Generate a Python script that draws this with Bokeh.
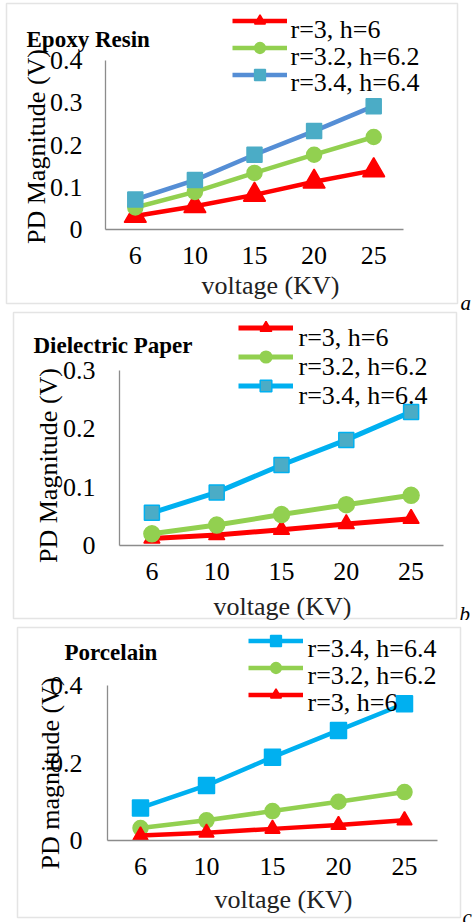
import math
from bokeh.plotting import figure
from bokeh.models import (Range1d, FixedTicker, Label, Legend, LegendItem,
                          BoxAnnotation)
from bokeh.layouts import column
from bokeh.embed import file_html
from bokeh.resources import INLINE

# ---------------- data ----------------
voltage_kv = ["6", "10", "15", "20", "25"]

epoxy_r3 = [0.032, 0.055, 0.082, 0.113, 0.140]
epoxy_r32 = [0.052, 0.089, 0.134, 0.177, 0.219]
epoxy_r34 = [0.071, 0.117, 0.177, 0.233, 0.292]

paper_r3 = [0.012, 0.018, 0.027, 0.037, 0.046]
paper_r32 = [0.020, 0.035, 0.053, 0.070, 0.086]
paper_r34 = [0.056, 0.091, 0.138, 0.181, 0.229]

porc_r3 = [0.013, 0.020, 0.030, 0.040, 0.052]
porc_r32 = [0.032, 0.052, 0.076, 0.100, 0.125]
porc_r34 = [0.084, 0.142, 0.215, 0.284, 0.353]

series_labels = ["r=3, h=6", "r=3.2, h=6.2", "r=3.4, h=6.4"]

yticks_a = [0, 0.1, 0.2, 0.3, 0.4]
yticks_b = [0, 0.1, 0.2, 0.3]
yticks_c = [0, 0.2, 0.4]
ytick_labels_a = ["0", "0.1", "0.2", "0.3", "0.4"]
ytick_labels_b = ["0", "0.1", "0.2", "0.3"]
ytick_labels_c = ["0", "0.2", "0.4"]

FONT = "Liberation Serif"
W = 474


def make_panel(title, ylabel, series, yticks, ytick_labels, cfg, tag):
    H = cfg["h"]
    L = cfg["axis_x"]              # canvas x of y axis (value 0.5 on x)
    Z = cfg["zero_y"]              # canvas y of value 0
    T = cfg["top_y"]               # canvas y of max tick
    ymax = yticks[-1]
    k = (Z - T) / ymax             # px per unit
    s = cfg["spacing"]             # px per category
    x0 = 0.5 - L / s
    x1 = 0.5 + (W - L) / s
    y0 = -(H - Z) / k
    y1 = Z / k

    p = figure(width=W, height=H, output_backend="svg", toolbar_location=None,
               x_range=Range1d(x0, x1), y_range=Range1d(y0, y1),
               min_border_left=0, min_border_right=0,
               min_border_top=0, min_border_bottom=0,
               outline_line_color=None, background_fill_color="white",
               border_fill_color="white")
    p.grid.visible = False

    xs = list(range(1, len(voltage_kv) + 1))
    items = []
    legend_texts = []
    for (label, vals, lcol, mfill, mline, marker, msize, lw) in series:
        r1 = p.line(xs, vals, line_color=lcol, line_width=lw)
        r2 = p.scatter(xs, vals, marker=marker, size=msize, fill_color=mfill,
                       line_color=mline, line_width=1.5)
        items.append(LegendItem(label=" ", renderers=[r1, r2]))
        legend_texts.append(label)

    # axes, drawn at fixed data locations inside the frame
    xa = p.xaxis[0]
    xa.fixed_location = 0
    xa.ticker = FixedTicker(ticks=xs)
    xa.major_label_overrides = {x: lab for x, lab in zip(xs, voltage_kv)}
    xa.bounds = (0.5, 5.5)
    ya = p.yaxis[0]
    ya.fixed_location = 0.5
    ya.ticker = FixedTicker(ticks=yticks)
    ya.major_label_overrides = {t: lab for t, lab in zip(yticks, ytick_labels)}
    ya.bounds = (0, ymax)
    for ax in (xa, ya):
        ax.axis_line_color = "#8C8C8C"
        ax.axis_line_width = 1.3
        ax.major_tick_line_color = None
        ax.minor_tick_line_color = None
        ax.major_tick_out = 0
        ax.major_tick_in = 0
        ax.major_label_text_font = FONT
        ax.major_label_text_font_size = "26px"
        ax.major_label_text_color = "black"
    xa.major_label_standoff = cfg["xstandoff"]
    ya.major_label_standoff = cfg["ystandoff"]

    # legend swatches (library legend); its texts are set as serif labels
    g = cfg["legend_glyph_h"]
    legend = Legend(items=items, location=cfg["legend_loc"],
                    label_text_font=FONT, label_text_font_size="1px",
                    label_height=0, label_width=0, label_standoff=0,
                    glyph_width=55, glyph_height=g,
                    spacing=0, padding=0, margin=0,
                    border_line_color=None, background_fill_alpha=0)
    p.add_layout(legend)
    lx = cfg["legend_text_x"]
    for text, by in zip(legend_texts, cfg["legend_text_y"]):
        p.add_layout(Label(x=lx, y=by, x_units="canvas", y_units="canvas",
                           text=text, text_font=FONT, text_font_size="26px",
                           text_color="black", text_baseline="alphabetic",
                           text_align="left"))

    # panel border box
    bl, br, bt, bb = cfg["box"]
    p.add_layout(BoxAnnotation(left=bl, right=br, top=bt, bottom=bb,
                               left_units="canvas", right_units="canvas",
                               top_units="canvas", bottom_units="canvas",
                               fill_alpha=0, line_color="#A6A6A6",
                               line_width=1.5))

    tx, ty = cfg["title_pos"]
    p.add_layout(Label(x=tx, y=ty, x_units="canvas", y_units="canvas",
                       text=title, text_font=FONT, text_font_size="23px",
                       text_font_style="bold", text_color="black",
                       text_baseline="alphabetic", text_align="left"))
    yx, yy = cfg["ylabel_pos"]
    p.add_layout(Label(x=yx, y=yy, x_units="canvas", y_units="canvas",
                       text=ylabel, text_font=FONT, text_font_size="26px",
                       text_color="black", angle=math.pi / 2,
                       text_baseline="alphabetic", text_align="center"))
    xx, xy = cfg["xlabel_pos"]
    p.add_layout(Label(x=xx, y=xy, x_units="canvas", y_units="canvas",
                       text="voltage (KV)", text_font=FONT,
                       text_font_size="26px", text_color="#222222",
                       text_baseline="alphabetic", text_align="center"))
    gx, gy = cfg["tag_pos"]
    p.add_layout(Label(x=gx, y=gy, x_units="canvas", y_units="canvas",
                       text=tag, text_font=FONT, text_font_size="21px",
                       text_font_style="italic", text_color="black",
                       text_baseline="alphabetic", text_align="left"))
    return p


cfg_a = dict(h=310, axis_x=105, zero_y=229, top_y=60, spacing=59.6,
             xstandoff=17, ystandoff=23,
             legend_loc=(232, 222), legend_glyph_h=27,
             legend_text_x=290, legend_text_y=[28.5, 55.5, 82],
             box=(6, 457, 3, 303), title_pos=(26, 39),
             ylabel_pos=(36, 146), xlabel_pos=(270, 285), tag_pos=(460, 302))
cfg_b = dict(h=310, axis_x=119, zero_y=235, top_y=60, spacing=64.8,
             xstandoff=17, ystandoff=24,
             legend_loc=(238, 220), legend_glyph_h=29,
             legend_text_x=298, legend_text_y=[27, 56, 84.5],
             box=(13, 456, 2, 308), title_pos=(33, 35),
             ylabel_pos=(48, 155), xlabel_pos=(282, 296), tag_pos=(459, 303))
cfg_c = dict(h=302, axis_x=107, zero_y=220, top_y=65, spacing=66,
             xstandoff=17, ystandoff=25,
             legend_loc=(248, 214), legend_glyph_h=27,
             legend_text_x=307, legend_text_y=[27.5, 55, 82],
             box=(17, 460, 7, 297), title_pos=(64, 32),
             ylabel_pos=(50, 153), xlabel_pos=(283, 279), tag_pos=(462, 296))

RED, GREEN, BLUE_A, TEAL, CYAN = "#FF0000", "#92D050", "#558ED5", "#4BACC6", "#00B0F0"

series_a = [
    (series_labels[0], epoxy_r3, RED, RED, RED, "triangle", 22, 4.5),
    (series_labels[1], epoxy_r32, GREEN, GREEN, GREEN, "circle", 15, 4.5),
    (series_labels[2], epoxy_r34, BLUE_A, TEAL, TEAL, "square", 15, 4.5),
]
series_b = [
    (series_labels[0], paper_r3, RED, RED, RED, "triangle", 16, 5),
    (series_labels[1], paper_r32, GREEN, GREEN, GREEN, "circle", 16, 5),
    (series_labels[2], paper_r34, CYAN, TEAL, CYAN, "square", 15, 5),
]
series_c = [
    (series_labels[2], porc_r34, CYAN, CYAN, CYAN, "square", 16, 4.5),
    (series_labels[1], porc_r32, GREEN, GREEN, GREEN, "circle", 15, 4.5),
    (series_labels[0], porc_r3, RED, RED, RED, "triangle", 15, 4.5),
]

pa = make_panel("Epoxy Resin", "PD Magnitude (V)", series_a, yticks_a,
                ytick_labels_a, cfg_a, "a")
pb = make_panel("Dielectric Paper", "PD Magnitude (V)", series_b, yticks_b,
                ytick_labels_b, cfg_b, "b")
pc = make_panel("Porcelain", "PD magnitude (V)", series_c, yticks_c,
                ytick_labels_c, cfg_c, "c")

layout = column(pa, pb, pc, spacing=0)
open("out.html", "w").write(file_html(layout, INLINE))
